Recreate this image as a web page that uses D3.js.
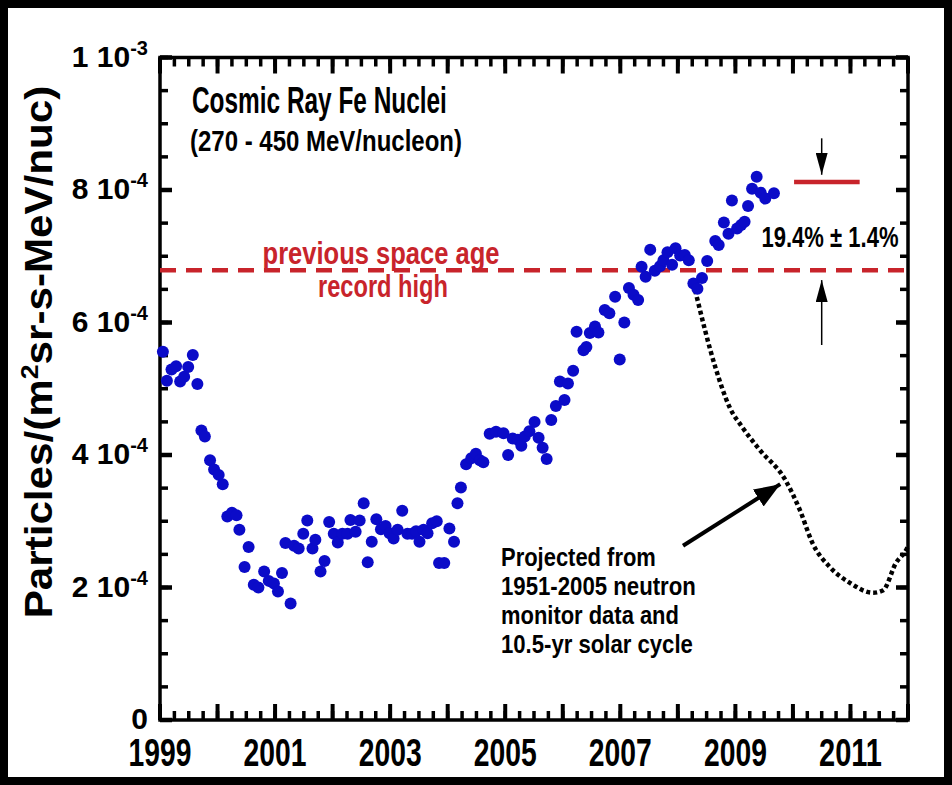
<!DOCTYPE html>
<html>
<head>
<meta charset="utf-8">
<script src="https://cdn.jsdelivr.net/npm/d3@7"></script>
<style>
body { margin: 0; background: #000; }
svg text { font-family: 'Liberation Sans', Arial, Helvetica, sans-serif; font-weight: bold; }
</style>
</head>
<body>
<svg id="chart"></svg>
<script>

//data, flux in units of 1e-4 particles/(m2 sr s MeV/nuc)//

var feYears = [1999.05,1999.12,1999.20,1999.28,1999.35,1999.42,1999.49,1999.57,1999.65,1999.72,
               1999.78,1999.87,1999.94,2000.02,2000.09,2000.17,2000.25,2000.33,2000.38,2000.47,
               2000.54,2000.63,2000.71,2000.81,2000.89,2000.98,2001.05,2001.12,2001.18,2001.27,
               2001.33,2001.41,2001.49,2001.56,2001.65,2001.70,2001.79,2001.86,2001.94,2002.02,
               2002.09,2002.17,2002.26,2002.31,2002.40,2002.47,2002.54,2002.61,2002.68,2002.76,
               2002.84,2002.92,2002.99,2003.06,2003.13,2003.21,2003.30,2003.38,2003.45,2003.51,
               2003.58,2003.65,2003.73,2003.81,2003.85,2003.94,2004.03,2004.11,2004.17,2004.23,
               2004.32,2004.41,2004.49,2004.56,2004.62,2004.73,2004.84,2004.97,2005.05,2005.13,
               2005.22,2005.28,2005.34,2005.42,2005.51,2005.58,2005.65,2005.72,2005.80,2005.88,
               2005.95,2006.03,2006.09,2006.18,2006.24,2006.36,2006.41,2006.47,2006.56,2006.62,
               2006.73,2006.81,2006.91,2006.99,2007.07,2007.15,2007.23,2007.31,2007.37,2007.44,
               2007.52,2007.60,2007.69,2007.75,2007.82,2007.90,2007.96,2008.04,2008.12,2008.19,
               2008.27,2008.34,2008.42,2008.51,2008.65,2008.71,2008.80,2008.88,2008.94,2009.03,
               2009.10,2009.16,2009.22,2009.29,2009.37,2009.44,2009.52,2009.67]

var feFlux = [5.56,5.12,5.29,5.34,5.11,5.18,5.33,5.51,5.07,4.37,
              4.28,3.92,3.78,3.70,3.56,3.07,3.13,3.09,2.87,2.31,
              2.61,2.04,2.00,2.24,2.10,2.06,1.94,2.22,2.67,1.76,
              2.63,2.59,2.81,3.01,2.59,2.72,2.24,2.40,2.99,2.81,
              2.68,2.81,2.81,3.02,2.84,3.01,3.27,2.38,2.69,3.03,
              2.88,2.93,2.82,2.74,2.87,3.16,2.81,2.81,2.85,2.69,
              2.87,2.82,2.97,3.00,2.37,2.37,2.89,2.69,3.27,3.51,
              3.86,3.95,4.02,3.92,3.89,4.32,4.35,4.33,4.00,4.25,
              4.23,4.14,4.28,4.36,4.50,4.26,4.11,3.94,4.53,4.74,
              5.11,4.83,5.08,5.27,5.86,5.58,5.63,5.84,5.94,5.85,
              6.19,6.14,6.39,5.44,6.00,6.52,6.42,6.34,6.84,6.69,
              7.10,6.78,6.85,6.94,7.06,6.87,7.12,7.01,7.02,6.94,
              6.59,6.51,6.67,6.93,7.23,7.17,7.51,7.34,7.84,7.42,
              7.47,7.52,7.76,8.02,8.20,7.96,7.87,7.95]

//projection from neutron monitor data//
var projYears = [2008.30,2008.65,2008.90,2009.12,2009.42,2009.87,2010.12,2010.34,2010.64,2010.99,
                 2011.39,2011.57,2011.79,2011.97,2012.00]
var projFlux = [6.49,5.33,4.72,4.42,4.08,3.62,3.17,2.67,2.31,2.07,
                1.92,1.96,2.37,2.57,2.62]

var recordHigh = 6.79     //previous space age record high//
var currentLevel = 8.12   //level reached in 2009//

var yTickValues = [0,2,4,6,8,10]
var yTickMant = ["0","2 10","4 10","6 10","8 10","1 10"]
var yTickExp = ["","-4","-4","-4","-4","-3"]
var yearLabels = [1999,2001,2003,2005,2007,2009,2011]

var projText = ["Projected from","1951-2005 neutron","monitor data and","10.5-yr solar cycle"]
var projWidth = [155,195,178,192]

//size of picture and plot box//

var screen = {width: 952, height: 785}
var plot = {left: 160, right: 908, top: 57.5, bottom: 720}

var svg = d3.select("#chart")
            .attr("width", screen.width)
            .attr("height", screen.height)

svg.append("rect")
   .attr("width", screen.width)
   .attr("height", screen.height)
   .attr("fill", "#000")

svg.append("rect")
   .attr("x", 8).attr("y", 8)
   .attr("width", 936).attr("height", 769)
   .attr("fill", "#fff")

var xScale = d3.scaleLinear()
               .domain([1999, 2012])
               .range([plot.left, plot.right])

var yScale = d3.scaleLinear()
               .domain([0, 10])
               .range([plot.bottom, plot.top])

//text squeezed sideways to look like the condensed face of the original//

var addText = function(parent, x, y, str, size, anchor, width)
             {
             var t = parent.append("g")
                           .attr("transform", "translate(" + x + "," + y + ")")
                           .append("text")
                           .attr("font-size", size)
                           .attr("text-anchor", anchor)
                           .text(str)
             if (width)
                {
                var w = t.node().getComputedTextLength()
                t.attr("transform", "scale(" + (width / w) + ",1)")
                }
             return t
             }

//ticks on all four sides, pointing inward//

var minorX = d3.range(1999, 2012.001, 0.25)
var majorX = d3.range(1999, 2013)
var minorY = d3.range(0, 10.001, 0.5)

var tickG = svg.append("g")

var xTicks = function(values, len, w)
            {
            [[plot.bottom, -len], [plot.top, len]].forEach(function(side)
                 {
                 tickG.append("g").selectAll("line").data(values).enter().append("line")
                      .attr("x1", function(d) { return xScale(d); })
                      .attr("x2", function(d) { return xScale(d); })
                      .attr("y1", side[0]).attr("y2", side[0] + side[1])
                      .attr("stroke", "#000").attr("stroke-width", w)
                 })
            }
var yTicks = function(values, len, w)
            {
            [[plot.left, len], [plot.right, -len]].forEach(function(side)
                 {
                 tickG.append("g").selectAll("line").data(values).enter().append("line")
                      .attr("y1", function(d) { return yScale(d); })
                      .attr("y2", function(d) { return yScale(d); })
                      .attr("x1", side[0]).attr("x2", side[0] + side[1])
                      .attr("stroke", "#000").attr("stroke-width", w)
                 })
            }

xTicks(minorX, 9, 3.5)
xTicks(majorX, 16, 4)
yTicks(minorY, 8, 3.5)
yTicks(yTickValues, 12, 4.5)

svg.append("rect")
   .attr("x", plot.left).attr("y", plot.top)
   .attr("width", plot.right - plot.left)
   .attr("height", plot.bottom - plot.top)
   .attr("fill", "none")
   .attr("stroke", "#000")
   .attr("stroke-width", 3.5)

//tick labels//

var labels = svg.append("g")
yearLabels.forEach(function(d)
            {
            addText(labels, xScale(d), 766, d, 38, "middle", 63)
            })

var yLab = svg.append("g")
              .selectAll("text")
              .data(yTickValues)
              .enter()
              .append("text")
              .attr("x", 148)
              .attr("y", function(d) { return yScale(d) + 9; })
              .attr("text-anchor", "end")
              .attr("font-size", 30)

yLab.append("tspan")
    .text(function(d, i) { return yTickMant[i]; })
yLab.append("tspan")
    .attr("dy", -12)
    .attr("font-size", 20)
    .text(function(d, i) { return yTickExp[i]; })

var yTitle = svg.append("g")
                .attr("transform", "translate(52,352) rotate(-90)")
                .append("text")
                .attr("text-anchor", "middle")
                .attr("font-size", 38)
                .html("Particles/(m<tspan dy='-14' font-size='24'>2</tspan><tspan dy='14'>sr-s-MeV/nuc)</tspan>")
var yTitleW = yTitle.node().getComputedTextLength()
yTitle.attr("transform", "scale(" + (533 / yTitleW) + ",1)")

//title//

addText(svg, 192, 113, "Cosmic Ray Fe Nuclei", 37, "start", 255)
addText(svg, 190, 151, "(270 - 450 MeV/nucleon)", 30, "start", 272)

//record high line and labels//

var red = "#c8242b"

svg.append("line")
   .attr("x1", xScale(1999)).attr("x2", xScale(2012))
   .attr("y1", yScale(recordHigh)).attr("y2", yScale(recordHigh))
   .attr("stroke", red)
   .attr("stroke-width", 4.5)
   .attr("stroke-dasharray", "16,10")

addText(svg, 381, 264, "previous space age", 31, "middle", 237).attr("fill", red)
addText(svg, 383, 297, "record high", 31, "middle", 130).attr("fill", red)

svg.append("line")
   .attr("x1", xScale(2010.02)).attr("x2", xScale(2011.16))
   .attr("y1", yScale(currentLevel)).attr("y2", yScale(currentLevel))
   .attr("stroke", red)
   .attr("stroke-width", 4.5)

//arrows marking the difference//

var defs = svg.append("defs")
defs.append("marker")
    .attr("id", "thinHead")
    .attr("viewBox", "0 0 22 12")
    .attr("refX", 22).attr("refY", 6)
    .attr("markerWidth", 22).attr("markerHeight", 12)
    .attr("markerUnits", "userSpaceOnUse")
    .attr("orient", "auto")
    .append("path").attr("d", "M0,0L22,6L0,12Z").attr("fill", "#000")
defs.append("marker")
    .attr("id", "bigHead")
    .attr("viewBox", "0 0 26 20")
    .attr("refX", 26).attr("refY", 10)
    .attr("markerWidth", 26).attr("markerHeight", 20)
    .attr("markerUnits", "userSpaceOnUse")
    .attr("orient", "auto")
    .append("path").attr("d", "M0,0L26,10L0,20Z").attr("fill", "#000")

var arrowX = xScale(2010.50)
svg.append("line")
   .attr("x1", arrowX).attr("x2", arrowX)
   .attr("y1", yScale(8.78)).attr("y2", yScale(8.23))
   .attr("stroke", "#000").attr("stroke-width", 1.5)
   .attr("marker-end", "url(#thinHead)")
svg.append("line")
   .attr("x1", arrowX).attr("x2", arrowX)
   .attr("y1", yScale(5.66)).attr("y2", yScale(6.64))
   .attr("stroke", "#000").attr("stroke-width", 1.5)
   .attr("marker-end", "url(#thinHead)")

addText(svg, 830, 247, "19.4% \u00b1 1.4%", 29, "middle", 137)

//projection curve//

var line = d3.line()
             .x(function(d, i) { return xScale(projYears[i]); })
             .y(function(d) { return yScale(d); })
             .curve(d3.curveMonotoneX)

svg.append("path")
   .datum(projFlux)
   .attr("d", line)
   .attr("fill", "none")
   .attr("stroke", "#000")
   .attr("stroke-width", 4.5)
   .attr("stroke-dasharray", "4,3")

svg.append("line")
   .attr("x1", xScale(2008.09)).attr("y1", yScale(2.63))
   .attr("x2", xScale(2009.78)).attr("y2", yScale(3.56))
   .attr("stroke", "#000").attr("stroke-width", 4)
   .attr("marker-end", "url(#bigHead)")

projText.forEach(function(d, i)
            {
            addText(svg, 501, 566 + i * 29, d, 26, "start", projWidth[i])
            })

//measured Fe nuclei//

svg.append("g")
   .selectAll("circle")
   .data(feFlux)
   .enter()
   .append("circle")
   .attr("cx", function(d, i) { return xScale(feYears[i]); })
   .attr("cy", function(d) { return yScale(d); })
   .attr("r", 6)
   .attr("fill", "#0b0bc8")

</script>
</body>
</html>
